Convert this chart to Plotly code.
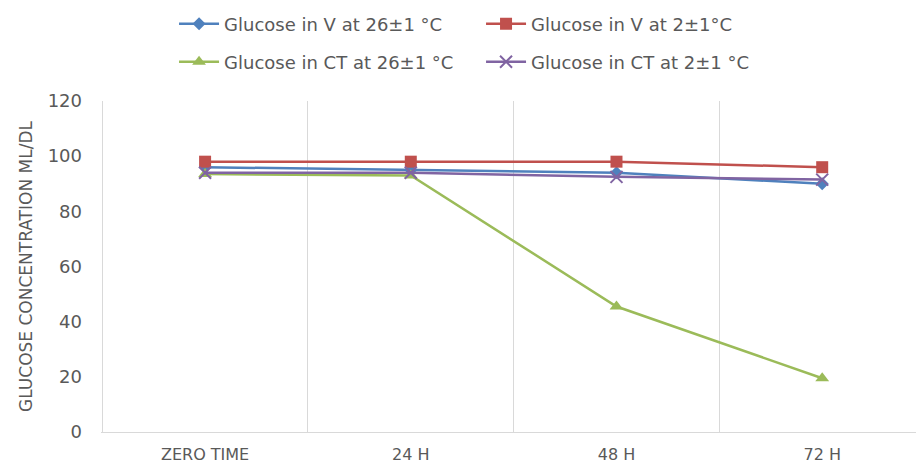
import plotly.graph_objects as go

categories = ["ZERO TIME", "24 H", "48 H", "72 H"]
v_26 = [96, 95, 94, 90]
v_2 = [98, 98, 98, 96]
ct_26 = [93.5, 93, 45.5, 19.5]
ct_2 = [94, 94, 92.5, 91.5]

series = [
    ("Glucose in V at 26±1 °C", v_26, "#4F81BD", "diamond", 10, "legend"),
    ("Glucose in V at 2±1°C", v_2, "#C0504D", "square", 12, "legend"),
    ("Glucose in CT at 26±1 °C", ct_26, "#9BBB59", "triangle-up", 12, "legend2"),
    ("Glucose in CT at 2±1 °C", ct_2, "#8064A2", "x-thin-open", 12, "legend2"),
]

fig = go.Figure()
for name, vals, color, sym, size, lg in series:
    marker = dict(symbol=sym, size=size, color=color)
    if sym.startswith("x"):
        marker["line"] = dict(color=color, width=2)
    fig.add_trace(go.Scatter(
        x=categories, y=vals, name=name, mode="lines+markers",
        line=dict(color=color, width=2.5), marker=marker, legend=lg,
    ))

font_fam = "DejaVu Sans, sans-serif"
leg_common = dict(orientation="h", xanchor="left", yanchor="middle",
                  xref="container", yref="container",
                  entrywidthmode="pixels", entrywidth=252,
                  font=dict(family=font_fam, size=18, color="#595959"),
                  bgcolor="rgba(0,0,0,0)", itemwidth=40)
fig.update_layout(
    width=916, height=464,
    margin=dict(l=101, r=0, t=101, b=32, autoexpand=False),
    paper_bgcolor="white", plot_bgcolor="white",
    font=dict(family=font_fam, color="#595959"),
    legend=dict(x=0.19, y=1 - 24 / 464, **leg_common),
    legend2=dict(x=0.19, y=1 - 62 / 464, **leg_common),
    xaxis=dict(
        type="category", range=[-0.506, 3.456], tickson="boundaries",
        showgrid=True, gridcolor="#D9D9D9", gridwidth=1,
        showline=True, linecolor="#D9D9D9", linewidth=1,
        ticks="", tickfont=dict(size=16, color="#595959"),
        ticklabelstandoff=8, automargin=False,
    ),
    yaxis=dict(
        range=[0, 120], dtick=20, showgrid=False, zeroline=False,
        showline=False,
        ticks="", tickfont=dict(size=18, color="#595959"),
        ticklabelstandoff=18, automargin=False,
        title=dict(text="GLUCOSE CONCENTRATION ML/DL",
                   font=dict(size=17, color="#595959"), standoff=10),
    ),
)

fig.write_html("out.html", config={"displayModeBar": False},
               post_script="document.body.style.margin='0';document.body.style.overflow='hidden';")
